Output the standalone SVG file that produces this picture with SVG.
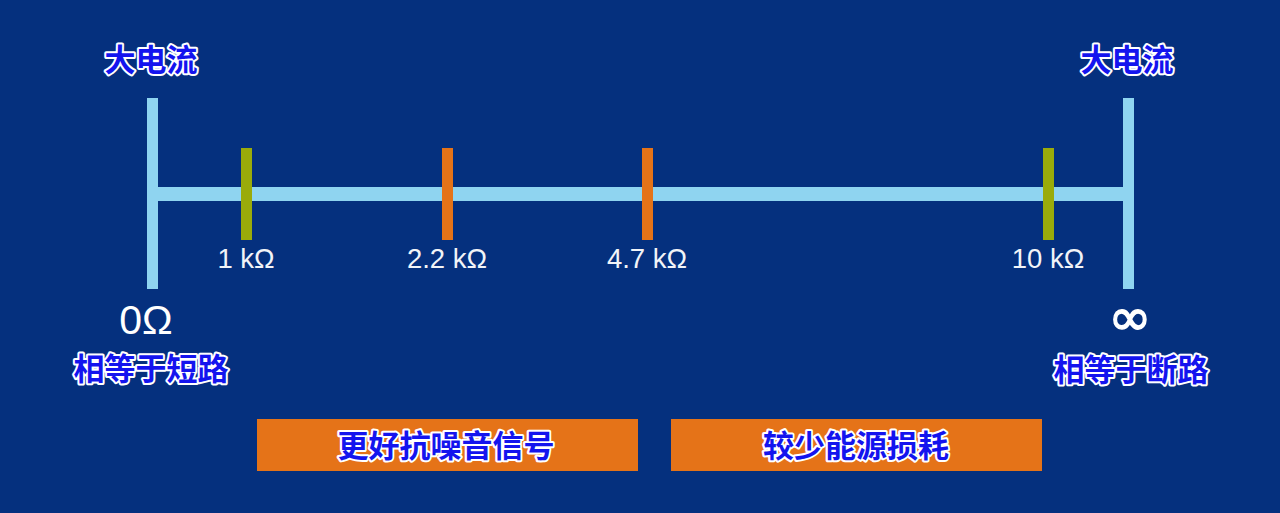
<svg xmlns="http://www.w3.org/2000/svg" width="1280" height="513" viewBox="0 0 1280 513">
<style>
.bar{fill:#8fd4f0}
.g{fill:#9aab0a}
.o{fill:#e57318}
.lbl{font-family:"Liberation Sans",Arial,sans-serif;font-size:27.5px;fill:#f2f4f8;text-anchor:middle}
.big{font-family:"Liberation Sans",Arial,sans-serif;font-size:41px;fill:#ffffff;text-anchor:middle}
.cn{font-family:"Noto Sans CJK SC","Noto Sans",sans-serif;font-weight:bold;font-size:31px;fill:#1414ee;stroke:#ffffff;stroke-width:4;stroke-linejoin:round;paint-order:stroke;text-anchor:middle}
</style>
<rect width="1280" height="513" fill="#05307e"/>
<g id="connectors">
<rect class="bar" x="157" y="187" width="966" height="14"/>
</g>
<g id="left-end">
<rect class="bar" x="147" y="98" width="11" height="191"/>
<text class="cn" x="151" y="71">大电流</text>
<text class="big" x="146" y="334">0Ω</text>
<text class="cn" x="151" y="380">相等于短路</text>
</g>
<g id="right-end">
<rect class="bar" x="1123" y="98" width="11" height="191"/>
<text class="cn" x="1127" y="71">大电流</text>
<text class="big" x="1130" y="335" style="font-family:'DejaVu Sans',sans-serif;font-size:52px;stroke:#ffffff;stroke-width:1.4">∞</text>
<text class="cn" x="1131" y="381">相等于断路</text>
</g>
<g id="tick-1k">
<rect class="g" x="241" y="148" width="11" height="92"/>
<text class="lbl" x="246" y="268">1 kΩ</text>
</g>
<g id="tick-2k2">
<rect class="o" x="442" y="148" width="11" height="92"/>
<text class="lbl" x="447" y="268">2.2 kΩ</text>
</g>
<g id="tick-4k7">
<rect class="o" x="642" y="148" width="11" height="92"/>
<text class="lbl" x="647" y="268">4.7 kΩ</text>
</g>
<g id="tick-10k">
<rect class="g" x="1043" y="148" width="11" height="92"/>
<text class="lbl" x="1048" y="268">10 kΩ</text>
</g>
<g id="box-noise">
<rect class="o" x="257" y="419" width="381" height="52"/>
<text class="cn" x="446" y="457">更好抗噪音信号</text>
</g>
<g id="box-energy">
<rect class="o" x="671" y="419" width="371" height="52"/>
<text class="cn" x="856" y="457">较少能源损耗</text>
</g>
</svg>
